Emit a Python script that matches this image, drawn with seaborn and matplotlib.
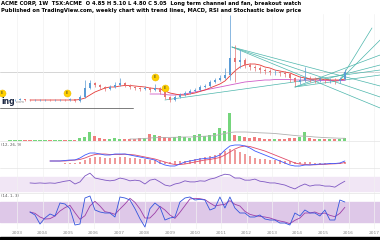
import numpy as np
import pandas as pd
import matplotlib
matplotlib.use("Agg")
import matplotlib.pyplot as plt
from matplotlib.patches import Rectangle
import seaborn as sns

N = np.nan

# ---------------- data ----------------
years = list(range(2003, 2018))
year_labels = [str(y) for y in years]

t_start, t_step = 2002.725, 0.196

open_ = [19.5, 20, 20.5, 21, 20.5, 20, 20, 20, 20.5, 20,
         20, 20.5, 20, 21, 19, 23, 32, 37, 35, 33,
         31, 33, 35, 37, 35, 33, 32, 31, 32, 30,
         32, 28, 23, 20, 23, 25, 27, 29, 30, 33,
         34, 38, 40, 42, 45, 62, 58, 60, 55, 53,
         52, 50, 49, 48, 48, 47, 46, 42, 38, 40,
         42, 41, 40, 41, 40, 40, 39, 41]
high = [21, 21.5, 22, 21.5, 21, 21, 21, 21.5, 21, 21,
        21.5, 21, 22, 21.5, 25, 40, 40, 38, 36, 34,
        35, 38, 42, 38, 36, 34, 33, 34, 33, 36,
        33, 29, 24, 25, 27, 29, 31, 32, 35, 36,
        40, 42, 45, 52, 105, 75, 70, 62, 57, 55,
        54, 52, 51, 50, 49, 49, 47, 43, 44, 53,
        44, 43, 43, 42, 42, 42, 43, 51]
low = [19, 19.5, 20, 19.5, 19, 19, 19, 19.5, 19, 19,
       19.5, 19, 19.5, 18, 18.5, 22, 31, 33, 31, 29,
       30, 32, 34, 33, 31, 30, 29, 30, 28, 29,
       26, 21, 18, 19, 22, 24, 26, 28, 29, 32,
       33, 37, 39, 41, 40, 38, 52, 52, 50, 49,
       47, 46, 45, 45, 44, 43, 38, 34, 36, 38,
       38, 37, 38, 37, 37, 36, 37, 40]
close = [20, 20.5, 21, 20.5, 20, 20, 20, 20.5, 20, 20,
         20.5, 20, 21, 19, 23, 32, 37, 35, 33, 31,
         33, 35, 37, 35, 33, 32, 31, 32, 30, 32,
         28, 23, 20, 23, 25, 27, 29, 30, 33, 34,
         38, 40, 42, 45, 62, 58, 60, 55, 53, 52,
         50, 49, 48, 48, 47, 46, 42, 38, 40, 42,
         41, 40, 41, 40, 40, 39, 41, 48]
volume = [1, 1, 1, 1, 1, 1, 1, 1, 1, 1,
          1, 1, 1, 1.5, 3, 4, 9, 5, 3, 2,
          2, 3, 2, 2, 2, 2, 3, 3, 7, 6,
          5, 4, 3, 4, 5, 4, 3, 6, 7, 5,
          6, 8, 13, 10, 28, 6, 5, 4, 3, 4,
          3, 2, 2, 2, 2, 2, 3, 3, 4, 9,
          3, 2, 2, 2, 2, 2, 2, 3]
vol_ma = [N] * 24 + [2, 2, 2.2, 2.5, 3, 3.3, 3.5, 3.6, 3.6, 3.7,
                     3.8, 4, 4, 4.2, 4.5, 4.8, 5, 5.5, 6.5, 7.5,
                     8.5, 9, 9, 9, 8.8, 8.5, 8.2, 8, 7.8, 7.5,
                     7, 6.5, 6, 5.5, 5, 4.8, 4.5, 4, 3.7, 3.4,
                     3.2, 3, 2.8, 2.7]
ma_fast = [N] * 4 + [20, 20, 20, 20, 20, 20, 20, 20, 20, 20,
                     20.5, 22, 25, 28, 30, 32, 33, 33, 34, 34.5,
                     34.5, 34, 33.5, 33, 32, 31.5, 31, 29, 27, 26,
                     25, 25, 26, 27, 28.5, 30, 32, 34, 36, 39,
                     44, 49, 53, 55, 56, 56, 55, 53, 52, 50,
                     49, 48, 47, 45, 43, 42, 41, 41, 41, 40.5,
                     40, 40, 40, 41]
ma_slow = [N] * 28 + [26, 26, 26, 25.5, 25, 25, 25.5, 26, 27, 28,
                      29, 30, 31, 32, 33, 34, 35, 36, 37, 38,
                      38.5, 39, 39.5, 40, 40, 40.5, 40.5, 40.5, 40.5, 40,
                      40, 40, 40, 40, 39.5, 39.5, 39.5, 39.5, 39.5, 39.5]
macd = [N] * 8 + [7, 7, 7, 7.5, 8, 8, 10, 13, 15, 15,
                  14, 13, 13, 14, 14, 14, 13, 12, 11, 10,
                  9, 8, 5, 3, 2, 2, 4, 6, 7, 8,
                  9, 9.5, 10, 11, 13, 18, 22, 23, 23, 22,
                  20, 17, 15, 13, 11, 9, 7, 5, 3, 2,
                  2, 3, 3, 3.5, 4, 4, 4.5, 4.5, 5, 7]
signal = [N] * 8 + [7, 7, 7, 7, 7.5, 8, 8.5, 10, 12, 13.5,
                    14, 14, 13.5, 13.5, 13.5, 13.8, 13.5, 13, 12, 11,
                    10, 9, 7.5, 6, 4.5, 3.5, 3.5, 4, 5, 6,
                    7, 8, 8.5, 9.5, 10.5, 13, 16, 19, 21, 22,
                    21.5, 20, 18.5, 17, 15, 13, 11, 9, 7, 5,
                    4, 3.5, 3.2, 3.2, 3.5, 3.7, 4, 4.2, 4.5, 5.5]
hist = [N] * 8 + [0.5, 0.5, 0.5, 1, 1, 1, 2, 4, 6, 7,
                  7, 6, 6, 6, 7, 7, 6, 6, 5, 5,
                  4, 4, 3, 2, 2, 3, 3, 3, 4, 5,
                  6, 7, 8, 9, 11, 13, 15, 14, 12, 10,
                  8, 6, 5, 5, 4, 4, 4, 3, 3, 2,
                  2, 2, 2, 1.5, 1.5, 1.5, 1.5, 1.5, 1.5, 2]
rsi = [N] * 4 + [53, 52, 53, 52, 53, 52, 55, 58, 60, 50,
                 56, 73, 81, 67, 64, 61, 59, 61, 67, 64,
                 59, 61, 59, 50, 61, 64, 56, 47, 44, 50,
                 53, 59, 56, 56, 59, 58, 64, 67, 73, 78,
                 76, 67, 67, 61, 61, 64, 58, 56, 53, 53,
                 50, 47, 41, 36, 44, 50, 44, 47, 47, 44,
                 44, 41, 50, 58]
stoch_k = [N] * 4 + [50, 41, 14, 32, 44, 38, 77, 74, 60, 11,
                     14, 92, 98, 56, 50, 47, 47, 35, 95, 92,
                     86, 60, 30, 5, 60, 77, 65, 26, 32, 35,
                     80, 92, 95, 86, 88, 86, 56, 62, 95, 62,
                     95, 62, 47, 47, 35, 35, 41, 29, 26, 26,
                     17, 17, 11, 47, 38, 56, 47, 47, 38, 56,
                     26, 26, 86, 80]
stoch_d = [N] * 4 + [50, 46, 35, 29, 30, 38, 53, 63, 70, 48,
                     28, 39, 68, 82, 68, 51, 48, 43, 59, 74,
                     91, 79, 59, 32, 32, 47, 67, 56, 41, 31,
                     49, 69, 89, 91, 90, 87, 77, 68, 71, 73,
                     84, 73, 68, 52, 43, 39, 37, 35, 32, 27,
                     23, 20, 15, 25, 32, 47, 47, 50, 44, 47,
                     40, 36, 46, 64]

# drawn trend lines: (t0, price0, t1, price1)
trend_lines = [
    (2011.43, 73, 2017.24, 12),
    (2011.43, 73, 2017.24, 23),
    (2011.43, 73, 2017.24, 34),
    (2013.90, 33, 2017.24, 65),
    (2013.90, 33, 2017.24, 55),
    (2013.90, 33, 2017.24, 45),
    (2015.67, 40, 2016.92, 92),
    (2015.67, 40, 2017.24, 80),
    (2008.80, 20, 2017.24, 50),
]
event_t = [2002.40, 2004.96, 2008.41, 2008.80]
event_v = [27, 27, 43, 32]
event_txt = ["E", "E", "E", "E"]
hline_price = 48

header_1 = "ACME CORP, 1W  TSX:ACME  O 4.85 H 5.10 L 4.80 C 5.05  Long term channel and fan, breakout watch"
header_2 = "Published on TradingView.com, weekly chart with trend lines, MACD, RSI and Stochastic below price"

# ---------------- figure ----------------
sns.set_theme(style="white")
plt.rcParams["font.family"] = ["DejaVu Sans"]

W, H = 380, 240
fig = plt.figure(figsize=(W / 100, H / 100), dpi=100)
fig.patch.set_facecolor("white")
x_lo, x_hi = 2002.333, 2017.235

df = pd.DataFrame({
    "t": t_start + t_step * np.arange(len(close)),
    "open": open_, "high": high, "low": low, "close": close,
    "volume": volume, "vol_ma": vol_ma, "ma_fast": ma_fast, "ma_slow": ma_slow,
    "macd": macd, "signal": signal, "hist": hist, "rsi": rsi,
    "k": stoch_k, "d": stoch_d,
})
up = df["close"] >= df["open"]
UP, DN = "#5b9bd5", "#e57373"


def pane(top, bottom, ylim):
    ax = fig.add_axes([0, 1 - bottom / H, 1, (bottom - top) / H])
    ax.set_facecolor("none")
    for s in ax.spines.values():
        s.set_visible(False)
    ax.set_xlim(x_lo, x_hi)
    ax.set_ylim(*ylim)
    ax.set_xticks(years)
    ax.set_xticklabels([])
    ax.set_yticks([])
    ax.tick_params(length=0)
    ax.grid(axis="x", color="#f1f1f1", linewidth=0.5)
    return ax


def line(ax, col, color, lw=0.6):
    d = df[["t", col]].dropna()
    sns.lineplot(data=d, x="t", y=col, ax=ax, color=color, linewidth=lw,
                 estimator=None, sort=False, legend=False)
    ax.set_xlabel("")
    ax.set_ylabel("")


# price pane
axp = pane(14, 112, (8, 106))
axp.axhline(hline_price, color="#cfcfcf", linewidth=0.6, zorder=0)
axp.plot([x_lo, 2007.55], [12, 12], color="#666666", linewidth=0.6)
for t0, v0, t1, v1 in trend_lines:
    axp.plot([t0, t1], [v0, v1], color="#4db6ac", linewidth=0.5, zorder=1)
line(axp, "ma_slow", "#d05cc8", 0.6)
line(axp, "ma_fast", "#e53935", 0.6)
colors = np.where(up, UP, DN)
axp.vlines(df["t"], df["low"], df["high"], colors=colors, linewidth=0.5, zorder=3)
body_lo = np.minimum(df["open"], df["close"])
body_h = np.maximum(np.abs(df["close"] - df["open"]), 0.5)
axp.bar(df["t"], body_h, bottom=body_lo, width=0.1, color=colors, linewidth=0, zorder=4)
axp.scatter(event_t, event_v, s=26, color="#ffd000", edgecolor="#e6b800",
            linewidth=0.3, zorder=6, clip_on=False)
for tt, vv, tx in zip(event_t, event_v, event_txt):
    axp.text(tt, vv, tx, fontsize=2.6, ha="center", va="center", color="#333333", zorder=7)

# volume pane
axv = pane(112, 141, (0, 29))
vcol = np.where(up, "#66d16e", "#ef7070")
axv.bar(df["t"], df["volume"], width=0.12, color=vcol, linewidth=0, alpha=0.9)
line(axv, "vol_ma", "#b0b0b0", 0.6)

# MACD pane
axm = pane(141, 168, (0, 27))
axm.bar(df["t"], df["hist"], bottom=4, width=0.06, color="#ef9a9a", linewidth=0)
line(axm, "signal", "#e04a6a", 0.6)
line(axm, "macd", "#3d5afe", 0.6)

# RSI pane
axr = pane(168, 193, (24.3, 95.7))
axr.axhspan(30, 70, color="#f1e6f5", zorder=0)
line(axr, "rsi", "#7e57c2", 0.6)

# Stochastic pane
axs = pane(193, 229, (-1, 107))
axs.axhspan(20, 80, color="#dec8e8", zorder=0)
line(axs, "d", "#9c3fa8", 0.6)
line(axs, "k", "#3355dd", 0.6)
axs.set_xticklabels(year_labels, fontsize=3.2, color="#8a8a8a")
axs.tick_params(axis="x", length=0, pad=1.2)

# separators
for yy in (141, 168, 193):
    fig.add_artist(plt.Line2D([0, 1], [1 - yy / H] * 2, color="#e4e4e4", linewidth=0.5))

# header / labels
fig.text(0.003, 1 - 3.5 / H, header_1, fontsize=3.8, color="black", weight="bold",
         va="center", ha="left")
fig.text(0.003, 1 - 10.5 / H, header_2, fontsize=3.8, color="black", weight="bold",
         va="center", ha="left")
fig.text(1 / W, 1 - 101 / H, "ing", fontsize=5.5, weight="bold",
         color="#1f2a44", ha="left", va="center")
fig.text(16 / W, 1 - 102 / H, ".com", fontsize=2.6, color="#888888", ha="left", va="center")
fig.text(1 / W, 1 - 145 / H, "(12, 26, 9)", fontsize=2.8, color="#555555", ha="left", va="center")
fig.text(1 / W, 1 - 196 / H, "(14, 1, 3)", fontsize=2.8, color="#555555", ha="left", va="center")

# bottom dark band
fig.add_artist(Rectangle((0, 0), 1, 3 / H, transform=fig.transFigure, color="black"))

fig.savefig("out.png", dpi=100)
